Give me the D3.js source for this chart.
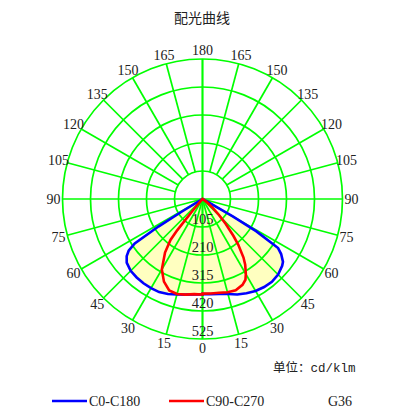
<!DOCTYPE html>
<html>
<head>
<meta charset="utf-8">
<script src="https://cdn.jsdelivr.net/npm/d3@7"></script>
<style>
  body { margin: 0; background: #fff; }
  text { fill: #222; }
</style>
</head>
<body>
<svg id="chart" width="395" height="417"></svg>
<script>
// gamma angles (deg from nadir) and intensities (cd/klm)
const c0Angles   = [0, 5, 10, 15, 20, 25, 30, 35, 40, 45, 50, 52, 55, 57, 59, 60, 61.5, 63];
const c0Values   = [356, 358, 362, 369, 381, 390, 398, 403, 405, 401, 390, 383, 360, 338, 236, 131, 30, 0];
const c180Angles = [0, 5, 10, 15, 20, 25, 30, 35, 40, 45, 50, 53, 55, 56.7, 58, 58.6, 59.5];
const c180Values = [358, 359, 364, 371, 379, 385, 386, 386, 384, 381, 371, 356, 338, 304, 195, 90, 0];
const c90Angles  = [0, 5, 10, 15, 20, 25, 28, 30, 33, 35, 38, 40, 43, 46, 49, 53, 57, 60];
const c90Values  = [355, 356, 357, 362, 364, 355, 343, 325, 294, 268, 218, 180, 128, 85, 52, 25, 8, 0];
const c270Angles = [0, 5, 10, 15, 20, 25, 30, 35, 38, 39, 40, 41];
const c270Values = [358, 358, 364, 369, 365, 342, 305, 245, 195, 150, 60, 0];

const ringValues = [105, 210, 315, 420, 525];
const spokeAngles = d3.range(0, 181, 15);

const svg = d3.select("#chart");
const cx = 202.5, cy = 199, R = 140;
const rad = Math.PI / 180;

const r = d3.scaleLinear().domain([0, 525]).range([0, R]);

const g = svg.append("g").attr("transform", `translate(${cx},${cy})`);

// build a closed outline: right half going out, left half coming back
function outline(rightA, rightV, leftA, leftV) {
  const pts = [];
  rightA.forEach((a, i) => pts.push([Math.PI - a * rad, r(rightV[i])]));
  for (let i = leftA.length - 1; i >= 0; i--) {
    pts.push([Math.PI + leftA[i] * rad, r(leftV[i])]);
  }
  return pts;
}

const line = d3.lineRadial()
  .angle(d => d[0])
  .radius(d => d[1])
  .curve(d3.curveLinearClosed);

const blue = outline(c0Angles, c0Values, c180Angles, c180Values);
const red = outline(c90Angles, c90Values, c270Angles, c270Values);

// fills under the grid
g.append("path").attr("d", line(blue)).attr("fill", "#FFFFC0");
g.append("path").attr("d", line(red)).attr("fill", "#FFFFC0");

// grid
const grid = g.append("g")
  .attr("stroke", "#00FF00")
  .attr("stroke-width", 1.7)
  .attr("fill", "none");

grid.selectAll("circle")
  .data(ringValues)
  .join("circle")
  .attr("r", d => r(d));

spokeAngles.forEach(a => {
  const r0 = (a > 90 && a < 180) ? r(ringValues[0]) : 0;
  [1, -1].forEach(side => {
    const s = Math.sin(a * rad) * side, c = Math.cos(a * rad);
    grid.append("line")
      .attr("x1", r0 * s).attr("y1", r0 * c)
      .attr("x2", R * s).attr("y2", R * c);
  });
});

// curves
g.append("path").attr("d", line(blue))
  .attr("fill", "none").attr("stroke", "#0000FF").attr("stroke-width", 2.6);
g.append("path").attr("d", line(red))
  .attr("fill", "none").attr("stroke", "#FF0000").attr("stroke-width", 2.6);

// ring value labels
g.selectAll(".ring-label")
  .data(ringValues)
  .join("text")
  .attr("class", "ring-label")
  .attr("x", 0)
  .attr("y", d => r(d) - 3)
  .attr("text-anchor", "middle")
  .style("font", "14.5px 'Liberation Serif', serif")
  .text(d => d);

// angle labels around the outside
const labelR = 149;
const angleLabelData = [];
spokeAngles.forEach(a => {
  angleLabelData.push({ a: a, side: 1 });
  if (a > 0 && a < 180) angleLabelData.push({ a: a, side: -1 });
});
g.selectAll(".angle-label")
  .data(angleLabelData)
  .join("text")
  .attr("class", "angle-label")
  .attr("x", d => labelR * Math.sin(d.a * rad) * d.side)
  .attr("y", d => labelR * Math.cos(d.a * rad))
  .attr("dy", "0.35em")
  .attr("text-anchor", "middle")
  .style("font", "14px 'Liberation Serif', serif")
  .text(d => d.a);

// title and unit
svg.append("text")
  .attr("x", 202).attr("y", 23)
  .attr("text-anchor", "middle")
  .style("font", "14px 'Noto Sans CJK SC', sans-serif")
  .text("配光曲线");

svg.append("text")
  .attr("x", 273).attr("y", 372)
  .style("font", "12.5px 'Liberation Mono', 'Noto Sans CJK SC', monospace")
  .text("单位：cd/klm");

// legend
const legend = svg.append("g").attr("transform", "translate(0,401)");
const legendItems = [
  { x: 52, color: "#0000FF", label: "C0-C180" },
  { x: 169, color: "#FF0000", label: "C90-C270" }
];
legendItems.forEach(d => {
  legend.append("line")
    .attr("x1", d.x).attr("x2", d.x + 35)
    .attr("stroke", d.color).attr("stroke-width", 2.5);
  legend.append("text")
    .attr("x", d.x + 37).attr("dy", "0.35em")
    .style("font", "14px 'Liberation Serif', serif")
    .text(d.label);
});
legend.append("text")
  .attr("x", 328).attr("dy", "0.35em")
  .style("font", "14px 'Liberation Serif', serif")
  .text("G36");
</script>
</body>
</html>
